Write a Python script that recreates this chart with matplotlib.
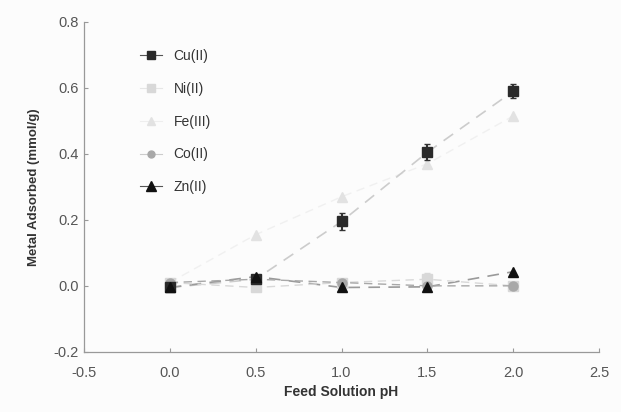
import matplotlib
matplotlib.use("Agg")
import matplotlib.pyplot as plt
from matplotlib.lines import Line2D

plt.rcParams['font.family'] = ['Liberation Sans', 'DejaVu Sans']

ph = [0.0, 0.5, 1.0, 1.5, 2.0]
cu = [-0.005, 0.02, 0.195, 0.405, 0.59]
cu_err = [0.0, 0.0, 0.025, 0.025, 0.022]
ni = [0.01, -0.005, 0.01, 0.02, 0.0]
ni_err = [0.0, 0.0, 0.0, 0.02, 0.0]
fe = [0.01, 0.155, 0.27, 0.37, 0.515]
co = [0.01, 0.02, 0.01, 0.0, 0.0]
zn = [-0.005, 0.028, -0.005, -0.003, 0.043]

xticks = [-0.5, 0.0, 0.5, 1.0, 1.5, 2.0, 2.5]
yticks = [-0.2, 0.0, 0.2, 0.4, 0.6, 0.8]

fig = plt.figure(figsize=(6.21, 4.12), dpi=100)
fig.patch.set_facecolor('#fcfcfc')
ax = fig.add_axes([0.135, 0.146, 0.830, 0.801])
ax.set_facecolor('#fcfcfc')

ax.errorbar(ph, ni, yerr=ni_err, color='#d8d8d8', marker='s', ms=6.5, ls=(0, (6, 4)), lw=1.0,
            capsize=2, label='Ni(II)')
ax.plot(ph, fe, color='#f0f0f0', ls=(0, (6, 4)), lw=1.0, zorder=1)
ax.plot(ph, fe, color='#e2e2e2', marker='^', ms=7.5, ls='none', label='Fe(III)')
ax.errorbar(ph, co, color='#a8a8a8', marker='o', ms=6.5, ls=(0, (6, 4)), lw=1.0, label='Co(II)')
ax.errorbar(ph, cu, yerr=cu_err, color='#2a2a2a', marker='s', ms=7, ls='none',
            ecolor='#333333', capsize=2.5, label='Cu(II)')
ax.plot(ph, cu, color='#cccccc', ls=(0, (7, 5)), lw=1.2, zorder=1)
ax.errorbar(ph, zn, color='#111111', marker='^', ms=7.5, ls='none', label='Zn(II)')
ax.plot(ph, zn, color='#9a9a9a', ls=(0, (7, 5)), lw=1.2, zorder=1)

handles = [
    Line2D([], [], color='#555555', marker='s', ms=6, mfc='#2a2a2a', mec='#2a2a2a', lw=0.8),
    Line2D([], [], color='#e6e6e6', marker='s', ms=6, mfc='#d8d8d8', mec='#d8d8d8', lw=0.8),
    Line2D([], [], color='#eeeeee', marker='^', ms=6, mfc='#e2e2e2', mec='#e2e2e2', lw=0.8),
    Line2D([], [], color='#cccccc', marker='o', ms=5, mfc='#a8a8a8', mec='#a8a8a8', lw=0.8),
    Line2D([], [], color='#555555', marker='^', ms=7, mfc='#111111', mec='#111111', lw=0.8),
]
labels = ['Cu(II)', 'Ni(II)', 'Fe(III)', 'Co(II)', 'Zn(II)']
ax.legend(handles, labels, loc='upper left', bbox_to_anchor=(0.085, 0.955), frameon=False,
          handlelength=1.6, handletextpad=0.8, labelspacing=1.35, fontsize=10,
          labelcolor='#333333')

ax.set_xlim(-0.5, 2.5)
ax.set_ylim(-0.2, 0.8)
ax.set_xticks(xticks)
ax.set_xticklabels([f'{v:.1f}' for v in xticks])
ax.set_yticks(yticks)
ax.set_yticklabels([f'{v:.1f}' for v in yticks])
for s in ['top', 'right']:
    ax.spines[s].set_visible(False)
for s in ['left', 'bottom']:
    ax.spines[s].set_color('#999999')
    ax.spines[s].set_linewidth(0.9)
ax.tick_params(axis='both', colors='#999999', labelcolor='#555555', labelsize=10.5, length=3, direction='in')
ax.tick_params(axis='x', pad=10)
ax.set_xlabel('Feed Solution pH', fontsize=10, fontweight='bold', color='#333333', labelpad=4)
ax.set_ylabel('Metal Adsorbed (mmol/g)', fontsize=9.5, fontweight='bold', color='#333333', labelpad=10)

fig.savefig('out.png', dpi=100, facecolor=fig.get_facecolor())
